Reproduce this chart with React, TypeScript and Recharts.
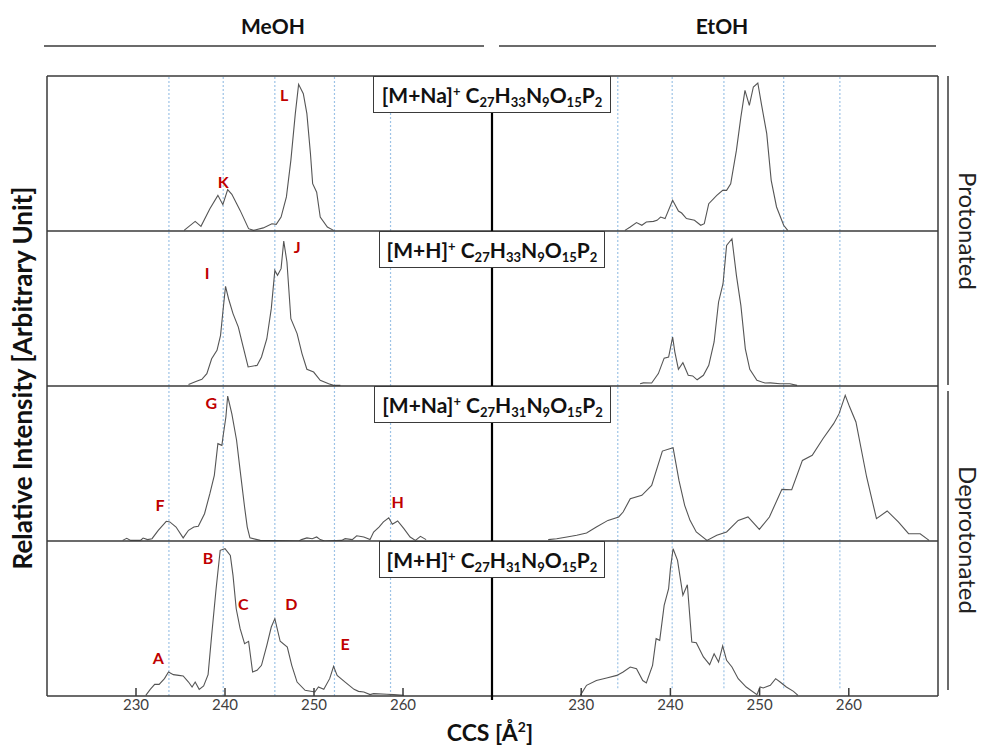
import React from "react";
import { LineChart, Line, XAxis, YAxis, ReferenceLine, ReferenceDot } from "recharts";

// CCS [Å²] vs relative intensity: [ccs, intensity]
const meohNaProt: [number, number][] = [
  [235.4, 0.004], [236.65, 0.062], [237.3, 0.03], [238.3, 0.144], [239.2, 0.23], [239.76, 0.17],
  [240.3, 0.267], [240.77, 0.237], [241.7, 0.133], [242.65, 0.015], [243.2, 0.004], [244.3, 0.02],
  [245.27, 0.047], [245.76, 0.043], [246.3, 0.09], [246.9, 0.22], [247.4, 0.456], [247.9, 0.757],
  [248.27, 0.946], [248.8, 0.886], [249.2, 0.757], [249.6, 0.5], [249.85, 0.305], [250.3, 0.25],
  [250.7, 0.09], [251.5, 0.026], [252.2, 0.004],
];
const etohNaProt: [number, number][] = [
  [234.9, 0.004], [235.5, 0.026], [236.2, 0.054], [236.8, 0.037], [237.3, 0.058], [238.1, 0.062],
  [238.5, 0.069], [238.9, 0.09], [239.4, 0.08], [240.25, 0.198], [240.9, 0.129], [241.26, 0.116],
  [241.8, 0.08], [242.7, 0.069], [243.4, 0.037], [243.8, 0.047], [244.3, 0.176], [245.2, 0.23],
  [245.86, 0.262], [246.3, 0.262], [246.76, 0.305], [247.4, 0.52], [247.9, 0.735], [248.36, 0.907],
  [248.85, 0.81], [249.3, 0.929], [249.8, 0.955], [250.2, 0.82], [250.8, 0.628], [251.3, 0.327],
  [251.9, 0.155], [252.7, 0.037], [253.15, 0.004],
];
const meohHProt: [number, number][] = [
  [235.9, 0.009], [236.8, 0.03], [237.4, 0.043], [237.96, 0.08], [238.5, 0.176], [239.1, 0.23],
  [239.5, 0.327], [239.76, 0.477], [240.06, 0.643], [240.4, 0.563], [240.9, 0.467], [241.5, 0.38],
  [242.0, 0.262], [242.6, 0.123], [243.6, 0.133], [244.1, 0.187], [244.7, 0.305], [245.2, 0.499],
  [245.6, 0.746], [245.9, 0.714], [246.3, 0.757], [246.6, 0.935], [246.96, 0.8], [247.4, 0.434],
  [248.1, 0.338], [248.65, 0.209], [249.2, 0.108], [249.96, 0.09], [250.7, 0.037], [251.65, 0.015],
  [252.2, 0.004], [252.96, 0.004],
];
const etohHProt: [number, number][] = [
  [236.6, 0.015], [236.97, 0.02], [237.9, 0.019], [238.65, 0.08], [239.3, 0.18], [239.8, 0.187],
  [240.25, 0.316], [240.5, 0.219], [240.9, 0.108], [241.4, 0.15], [242.0, 0.069], [242.5, 0.065],
  [243.0, 0.04], [243.7, 0.069], [244.3, 0.133], [244.9, 0.284], [245.4, 0.542], [245.9, 0.66],
  [246.3, 0.907], [246.9, 0.95], [247.4, 0.714], [247.9, 0.52], [248.4, 0.24], [248.9, 0.108],
  [249.7, 0.037], [250.6, 0.019], [251.2, 0.02], [252.3, 0.015], [253.4, 0.015], [254.2, 0.004],
];
const meohNaDeprot: [number, number][] = [
  [228.5, 0.004], [228.96, 0.017], [229.4, 0.004], [230.5, 0.004], [230.8, 0.019], [231.3, 0.009],
  [231.8, 0.015], [232.5, 0.069], [233.4, 0.127], [233.8, 0.123], [234.5, 0.09], [235.3, 0.02],
  [235.9, 0.069], [236.5, 0.09], [237.0, 0.095], [237.7, 0.176], [238.3, 0.305], [238.8, 0.424],
  [239.2, 0.628], [239.65, 0.617], [239.8, 0.682], [240.1, 0.8], [240.3, 0.935], [240.77, 0.82],
  [241.3, 0.65], [241.7, 0.456], [242.2, 0.219], [242.5, 0.09], [242.8, 0.02], [243.96, 0.004],
  [248.3, 0.0], [248.6, 0.009], [249.2, 0.02], [249.8, 0.015], [250.3, 0.026], [250.7, 0.009],
  [251.2, 0.0], [253.1, 0.004], [253.5, 0.015], [254.3, 0.009], [254.8, 0.034], [255.6, 0.026],
  [256.3, 0.009], [256.7, 0.058], [257.3, 0.09], [257.8, 0.123], [258.4, 0.15], [258.8, 0.108],
  [259.4, 0.129], [260.1, 0.08], [260.8, 0.026], [261.4, 0.004], [261.96, 0.03], [262.6, 0.009],
];
const etohNaDeprot: [number, number][] = [
  [226.3, 0.009], [227.25, 0.015], [228.4, 0.026], [229.5, 0.037], [230.6, 0.052], [231.7, 0.09],
  [233.0, 0.133], [234.2, 0.155], [234.7, 0.187], [235.5, 0.273], [236.8, 0.295], [237.9, 0.359],
  [239.1, 0.58], [240.3, 0.602], [240.96, 0.391], [241.6, 0.23], [242.2, 0.133], [242.9, 0.058],
  [244.1, 0.004], [245.2, 0.037], [246.3, 0.058], [247.6, 0.133], [248.7, 0.155], [249.97, 0.075],
  [251.1, 0.155], [252.5, 0.333], [253.6, 0.331], [254.8, 0.52], [255.9, 0.553], [257.1, 0.66],
  [258.3, 0.757], [258.9, 0.82], [259.6, 0.94], [260.1, 0.864], [260.8, 0.768], [262.0, 0.413],
  [263.1, 0.144], [264.3, 0.194], [265.55, 0.123], [266.7, 0.047], [268.0, 0.047], [269.0, 0.004],
];
const meohHDeprot: [number, number][] = [
  [231.1, 0.004], [231.6, 0.043], [232.1, 0.075], [232.6, 0.075], [233.2, 0.112], [233.65, 0.155],
  [234.2, 0.138], [234.8, 0.133], [235.3, 0.129], [235.9, 0.09], [236.3, 0.058], [236.65, 0.09],
  [237.1, 0.043], [237.6, 0.065], [238.1, 0.138], [238.5, 0.391], [239.0, 0.692], [239.46, 0.94],
  [240.0, 0.95], [240.6, 0.907], [240.9, 0.778], [241.26, 0.563], [241.7, 0.434], [242.2, 0.338],
  [242.65, 0.353], [243.1, 0.155], [243.6, 0.166], [244.1, 0.198], [244.7, 0.327], [245.2, 0.445],
  [245.6, 0.499], [246.2, 0.353], [247.0, 0.316], [247.5, 0.198], [248.1, 0.09], [249.0, 0.037],
  [250.1, 0.026], [250.5, 0.058], [251.1, 0.043], [251.76, 0.112], [252.2, 0.191], [252.6, 0.133],
  [253.5, 0.09], [254.5, 0.043], [255.0, 0.03], [255.6, 0.026], [256.3, 0.009], [256.7, 0.015],
  [258.2, 0.011], [258.96, 0.009], [260.1, 0.004],
];
const etohHDeprot: [number, number][] = [
  [229.9, 0.004], [230.6, 0.069], [231.7, 0.1], [232.85, 0.116], [234.0, 0.133], [234.7, 0.155],
  [235.5, 0.187], [236.2, 0.176], [236.9, 0.1], [237.3, 0.084], [238.0, 0.198], [238.4, 0.37],
  [238.8, 0.359], [239.3, 0.585], [239.8, 0.692], [240.0, 0.82], [240.3, 0.95], [240.8, 0.875],
  [241.4, 0.65], [241.9, 0.718], [242.4, 0.348], [242.9, 0.344], [243.7, 0.252], [244.4, 0.202],
  [244.9, 0.273], [245.4, 0.219], [245.86, 0.323], [246.3, 0.23], [246.9, 0.187], [247.6, 0.112],
  [248.5, 0.058], [249.7, 0.009], [250.05, 0.058], [250.4, 0.052], [251.2, 0.069], [251.8, 0.112],
  [252.3, 0.09], [253.0, 0.058], [253.8, 0.03], [254.3, 0.004],
];

const ccsTicks = [230, 240, 250, 260];
const meohMarkers = [233.7, 239.8, 245.6, 252.3, 258.6];
const etohMarkers = [234.1, 240.2, 246.0, 252.7, 259.0];

// peak letters: [label, ccs, intensity]
const lettersNaProt: [string, number, number][] = [["L", 246.66, 0.877], ["K", 239.8, 0.316]];
const lettersHProt: [string, number, number][] = [["I", 238.0, 0.729], ["J", 248.1, 0.897]];
const lettersNaDeprot: [string, number, number][] = [["G", 238.45, 0.89], ["F", 232.7, 0.232], ["H", 259.4, 0.252]];
const lettersHDeprot: [string, number, number][] = [
  ["B", 238.1, 0.89], ["C", 242.05, 0.594], ["D", 247.45, 0.594], ["E", 253.5, 0.335], ["A", 232.5, 0.245],
];

const solvents = ["MeOH", "EtOH"];
const states = ["Protonated", "Deprotonated"];
const adducts = ["Na", "H", "Na", "H"];
const hydrogens = ["33", "33", "31", "31"];

const FONT = "Lato, 'Open Sans', sans-serif";
const LEFT = 47;
const MID = 492;
const RIGHT = 938;
const TOP = 76;
const ROW_H = 155;
const INK = "#3a3a3a";

const rows = [
  { meoh: meohNaProt, etoh: etohNaProt, letters: lettersNaProt, box: [373, 611] },
  { meoh: meohHProt, etoh: etohHProt, letters: lettersHProt, box: [379, 605] },
  { meoh: meohNaDeprot, etoh: etohNaDeprot, letters: lettersNaDeprot, box: [374, 611] },
  { meoh: meohHDeprot, etoh: etohHDeprot, letters: lettersHDeprot, box: [379, 605] },
];

const toRows = (pts: [number, number][]) => pts.map(([ccs, y]) => ({ ccs, y }));

const renderTick = (props: any) => {
  const { x, y, payload } = props;
  return (
    <g>
      <line x1={x} x2={x} y1={y - 8} y2={y} stroke={INK} strokeWidth={1.5} />
      <text x={x} y={y + 14} textAnchor="middle" fontFamily={FONT} fontSize={15} fill="#404040">
        {payload.value}
      </text>
    </g>
  );
};

function Panel({
  pts, markers, letters, bottom, width, markerFloor,
}: {
  pts: [number, number][];
  markers: number[];
  letters: [string, number, number][];
  bottom: boolean;
  width: number;
  markerFloor: number;
}) {
  return (
    <LineChart
      width={width}
      height={bottom ? ROW_H + 30 : ROW_H}
      data={toRows(pts)}
      margin={{ top: 0, right: 0, bottom: 0, left: 0 }}
    >
      <XAxis
        type="number"
        dataKey="ccs"
        domain={[220, 270]}
        allowDataOverflow
        ticks={ccsTicks}
        interval={0}
        hide={!bottom}
        height={30}
        axisLine={false}
        tickLine={false}
        tickSize={0}
        tickMargin={0}
        tick={renderTick}
      />
      <YAxis type="number" domain={[0, 1]} allowDataOverflow hide />
      {markers.map((m) => (
        <ReferenceLine
          key={m}
          segment={[{ x: m, y: markerFloor }, { x: m, y: 1 }]}
          stroke="#9dc3e6"
          strokeWidth={1.2}
          strokeDasharray="2 2"
        />
      ))}
      <Line
        type="linear"
        dataKey="y"
        stroke="#555555"
        strokeWidth={1.1}
        dot={false}
        isAnimationActive={false}
      />
      {letters.map(([label, x, y]) => (
        <ReferenceDot
          key={label}
          x={x}
          y={y}
          r={1}
          fill="none"
          stroke="none"
          label={{ value: label, position: "center", fill: "#c00000", fontSize: 16, fontWeight: 700, fontFamily: FONT }}
        />
      ))}
    </LineChart>
  );
}

function Formula({ i }: { i: number }) {
  const sub = { fontSize: "0.62em", verticalAlign: "-0.3em", lineHeight: 0 } as const;
  return (
    <span>
      [M+{adducts[i]}]<span style={{ fontSize: "0.62em", verticalAlign: "0.55em", lineHeight: 0 }}>+</span>{" "}
      C<span style={sub}>27</span>H<span style={sub}>{hydrogens[i]}</span>N<span style={sub}>9</span>O
      <span style={sub}>15</span>P<span style={sub}>2</span>
    </span>
  );
}

export default function App() {
  const bottomY = TOP + ROW_H * 4;
  return (
    <div style={{ position: "absolute", left: 0, top: 0, width: 983, height: 746, background: "#fff", fontFamily: FONT }}>
      {rows.map((r, i) => (
        <React.Fragment key={i}>
          <div style={{ position: "absolute", left: LEFT, top: TOP + i * ROW_H }}>
            <Panel pts={r.meoh} markers={meohMarkers} letters={r.letters} bottom={i === 3} width={MID - LEFT} markerFloor={0} />
          </div>
          <div style={{ position: "absolute", left: MID, top: TOP + i * ROW_H }}>
            <Panel pts={r.etoh} markers={etohMarkers} letters={[]} bottom={i === 3} width={RIGHT - MID} markerFloor={i === 3 ? 0.05 : 0} />
          </div>
        </React.Fragment>
      ))}

      <svg width={983} height={746} style={{ position: "absolute", left: 0, top: 0, pointerEvents: "none" }}>
        {[0, 1, 2, 3, 4].map((k) => (
          <line key={k} x1={LEFT} x2={RIGHT} y1={TOP + k * ROW_H} y2={TOP + k * ROW_H} stroke={INK} strokeWidth={1.5} />
        ))}
        <line x1={LEFT} x2={LEFT} y1={TOP} y2={bottomY} stroke={INK} strokeWidth={1.5} />
        <line x1={RIGHT} x2={RIGHT} y1={TOP} y2={bottomY} stroke={INK} strokeWidth={1.5} />
        <line x1={MID} x2={MID} y1={TOP} y2={bottomY + 4} stroke="#000" strokeWidth={2.2} />

        <text x={273} y={34} textAnchor="middle" fontFamily={FONT} fontWeight={700} fontSize={21} fill="#111">{solvents[0]}</text>
        <text x={722} y={34} textAnchor="middle" fontFamily={FONT} fontWeight={700} fontSize={21} fill="#111">{solvents[1]}</text>
        <line x1={44} x2={484} y1={46} y2={46} stroke={INK} strokeWidth={1.5} />
        <line x1={499} x2={936} y1={46} y2={46} stroke={INK} strokeWidth={1.5} />

        <line x1={948} x2={948} y1={TOP} y2={385} stroke={INK} strokeWidth={1.5} />
        <line x1={948} x2={948} y1={391} y2={690} stroke={INK} strokeWidth={1.5} />
        <text transform="translate(968,231) rotate(90)" textAnchor="middle" dominantBaseline="central" fontFamily={FONT} fontSize={24} fill="#222">{states[0]}</text>
        <text transform="translate(968,540) rotate(90)" textAnchor="middle" dominantBaseline="central" fontFamily={FONT} fontSize={24} fill="#222">{states[1]}</text>

        <text transform="translate(22,378) rotate(-90)" textAnchor="middle" dominantBaseline="central" fontFamily={FONT} fontWeight={700} fontSize={26} fill="#111">Relative Intensity [Arbitrary Unit]</text>
        <text x={490} y={741} textAnchor="middle" fontFamily={FONT} fontWeight={700} fontSize={23} fill="#111">
          CCS [Å<tspan fontSize={14} dy={-9}>2</tspan><tspan dy={9}>]</tspan>
        </text>
      </svg>

      {rows.map((r, i) => (
        <div
          key={"box" + i}
          style={{
            position: "absolute",
            left: r.box[0],
            top: TOP + i * ROW_H,
            width: r.box[1] - r.box[0],
            height: 37,
            boxSizing: "border-box",
            border: `1.5px solid ${INK}`,
            background: "#fff",
            display: "flex",
            alignItems: "center",
            justifyContent: "center",
            fontWeight: 700,
            fontSize: 21,
            color: "#111",
            whiteSpace: "nowrap",
          }}
        >
          <Formula i={i} />
        </div>
      ))}
    </div>
  );
}
